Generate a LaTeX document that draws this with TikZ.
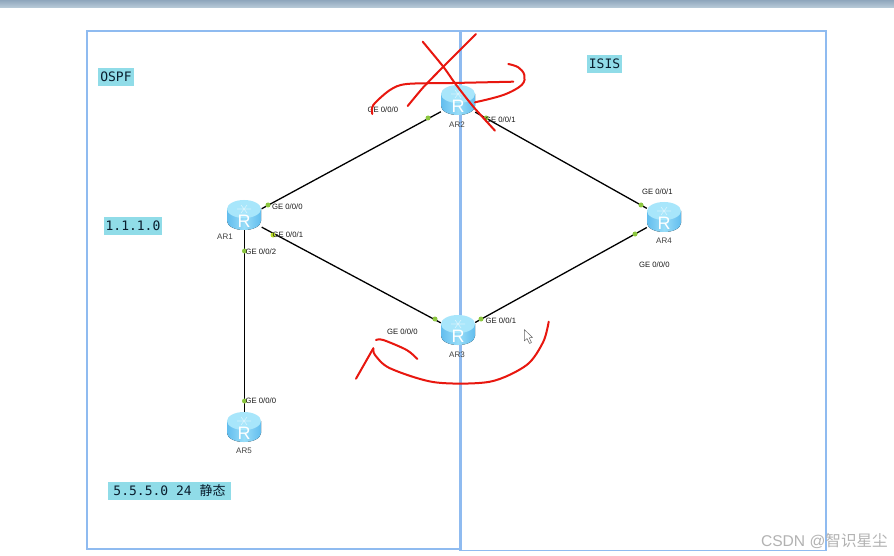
\documentclass[tikz,border=0pt]{standalone}
\usepackage{fontspec}
\setmainfont{Liberation Sans}
\newfontfamily\monof{DejaVu Sans Mono}
\newfontfamily\cjkf{Noto Sans CJK SC}
\usetikzlibrary{calc}
\definecolor{frameblue}{HTML}{8FBBF0}
\definecolor{tagbg}{HTML}{90DCE8}
\definecolor{tagtext}{HTML}{0A1E2E}
\definecolor{inkred}{HTML}{E8170F}
\definecolor{portgreen}{HTML}{8CC63F}
\definecolor{rbodyA}{HTML}{62BDEE}
\definecolor{rbodyB}{HTML}{98DDF8}
\definecolor{rtop}{HTML}{A8E6FB}
\definecolor{barA}{HTML}{8FA6BC}
\definecolor{barB}{HTML}{B8CAD8}
\tikzset{
  frame/.style={draw=frameblue,line width=1.4pt},
  tag/.style={fill=tagbg,inner sep=0pt,text=tagtext,font=\monof\fontsize{13}{15}\selectfont,anchor=center},
  port/.style={font=\fontsize{7.7}{9}\selectfont,text=black!90,inner sep=0pt,anchor=west},
  rname/.style={font=\fontsize{8}{9}\selectfont,text=black!75,inner sep=0pt},
  anchorbox/.style={rectangle,minimum width=34pt,minimum height=24pt,inner sep=0pt},
  link/.style={draw=black,line width=1.3pt},
  dot/.style={circle,fill=portgreen,minimum size=5pt,inner sep=0pt},
  scrawl/.style={draw=inkred,line width=2pt,line cap=round,line join=round},
  pics/routerglyph/.style={code={
    \fill[left color=rbodyA,right color=rbodyA,middle color=rbodyB]
      (-17,-6) -- (-17,6) arc[start angle=180,end angle=0,x radius=17,y radius=9] -- (17,-6) -- cycle;
    \fill[rtop] (0,-6) ellipse[x radius=17,y radius=9];
    \draw[white,opacity=.55,line width=.6pt] (-7,-6) -- (7,-6) (-3,-10) -- (3,-2) (3,-10) -- (-3,-2);
    \node[text=white,inner sep=0pt,font=\fontsize{18}{18}\selectfont] at (0,6) {R};
  }}
}
\begin{document}
\begin{tikzpicture}[x=1pt,y=-1pt]
\useasboundingbox (0,0) rectangle (894,556);
\fill[white] (0,0) rectangle (894,556);
\shade[top color=barA,bottom color=barB] (0,0) rectangle (894,7.5);

\draw[frame] (87,31) rectangle (461,549);
\draw[frame] (459.5,31) rectangle (826,550.5);
\draw[frameblue,line width=2.6pt] (460.3,31) -- (460.3,550.5);

\node[anchorbox] (ar1) at (244.5,218) {};
\node[anchorbox] (ar2) at (458,102.5) {};
\node[anchorbox] (ar3) at (458,332) {};
\node[anchorbox] (ar4) at (664,218) {};
\node[anchorbox] (ar5) at (244.5,424) {};

\draw[link] (ar1) -- (ar2);
\draw[link] (ar1) -- (ar3);
\draw[link] (ar1) -- (ar5);
\draw[link] (ar2) -- (ar4);
\draw[link] (ar3) -- (ar4);

\pic at (244,215) {routerglyph};
\pic at (458,100) {routerglyph};
\pic at (458,330) {routerglyph};
\pic at (664,217) {routerglyph};
\pic at (244,427) {routerglyph};

\node[dot] (p1) at (268,205) {};
\node[dot,fill=portgreen!60!yellow] (p2) at (273,235) {};
\node[dot] (p3) at (244.5,251) {};
\node[dot] (p4) at (428,118) {};
\node[dot] (p5) at (486,118) {};
\node[dot] (p6) at (435,319) {};
\node[dot] (p7) at (481,319) {};
\node[dot] (p8) at (641,205) {};
\node[dot] (p9) at (635,234) {};
\node[dot] (p10) at (244.5,401) {};

\node[rname] (n1) at (225,237) {AR1};
\node[rname] (n2) at (457,125) {AR2};
\node[rname] (n3) at (457,355) {AR3};
\node[rname] (n4) at (664,241) {AR4};
\node[rname] (n5) at (244,451) {AR5};

\node[port] (l1) at (272,207) {GE 0/0/0};
\node[port] (l2) at (272.5,235) {GE 0/0/1};
\node[port] (l3) at (245.5,251.5) {GE 0/0/2};
\node[port] (l4) at (367.5,110) {GE 0/0/0};
\node[port] (l5) at (485,119.5) {GE 0/0/1};
\node[port] (l6) at (387,332) {GE 0/0/0};
\node[port] (l7) at (485.5,321) {GE 0/0/1};
\node[port] (l8) at (642,192) {GE 0/0/1};
\node[port] (l9) at (639,265) {GE 0/0/0};
\node[port] (l10) at (245.5,401) {GE 0/0/0};

\node[tag,minimum width=36pt,minimum height=18pt] (t1) at (116,77) {OSPF};
\node[tag,minimum width=35pt,minimum height=18pt] (t2) at (604.5,64) {ISIS};
\node[tag,minimum width=58pt,minimum height=18pt] (t3) at (133,226) {1.1.1.0};
\node[tag,minimum width=123pt,minimum height=18pt] (t4) at (169.5,491) {5.5.5.0 24 {\cjkf 静态}};

\draw[scrawl] plot[smooth,tension=.4] coordinates {(422.7,41.7) (443.3,66.7) (455,83.3) (473.3,106.7) (495,130.7)};
\draw[scrawl] plot[smooth,tension=.4] coordinates {(476,34) (443.3,66.7) (423.3,87.3) (407.7,106)};
\draw[scrawl] plot[smooth,tension=.5] coordinates {(372.3,114) (373.3,105) (390,90) (406.7,84) (453,83) (513.3,81.7)};
\draw[scrawl] plot[smooth,tension=.6] coordinates {(508.3,64) (518.3,67.3) (524.3,75) (521.7,85) (503.3,95) (475,102.3)};
\draw[scrawl] (356,378.7) -- (373.3,348.3);
\draw[scrawl] plot[smooth,tension=.5] coordinates {(373.3,348.3) (375,355) (390,368.3) (435,382.3) (490,381.7) (526.7,365) (543.3,341.7) (548.7,321.7)};
\draw[scrawl] plot[smooth,tension=.5] coordinates {(376,340) (383.3,340) (406.7,350) (417.3,359)};

\draw[black!60,fill=white,line width=.5pt,line join=round] (524.3,329.5) -- (524.3,341) -- (527,338.5) -- (529.5,343.5) -- (531.5,342.5) -- (529.2,337.8) -- (532.5,337.5) -- cycle;

\node[inner sep=0pt,anchor=east,text=black!30,font=\fontsize{15.6}{17}\selectfont] (wm) at (888,541) {CSDN @{\cjkf 智识星尘}};
\end{tikzpicture}
\end{document}
